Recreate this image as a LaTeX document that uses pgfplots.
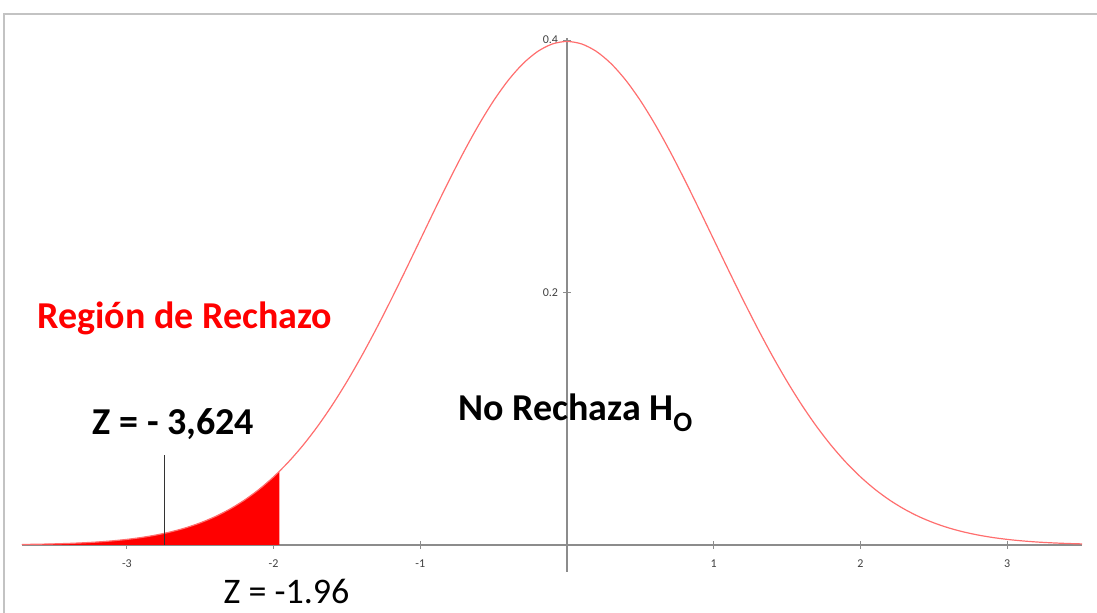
\documentclass[border=0pt]{standalone}
\usepackage{fontspec}
\setmainfont{Carlito}
\usepackage{pgfplots}
\pgfplotsset{compat=1.18}
\definecolor{curvered}{RGB}{255,110,110}
\definecolor{axgray}{RGB}{140,140,140}
\definecolor{framegray}{RGB}{195,195,195}
\begin{document}
\begin{tikzpicture}
\begin{axis}[
  scale only axis,
  width=530pt, height=267pt,
  xmin=-3.715, xmax=3.51,
  ymin=-0.0214, ymax=0.4017,
  axis lines=middle,
  axis line style={axgray, line width=0.8pt, -},
  xtick={-3,-2,-1,1,2,3},
  ytick={0.2,0.4},
  yticklabels={0.2,0.4},
  tick style={axgray, line width=0.6pt},
  major tick length=4pt,
  tick align=center,
  /pgf/number format/assume math mode=true,
  tick label style={font=\fontsize{6}{7}\selectfont, text=black!75},
  xticklabel style={yshift=-2pt},
  yticklabel style={xshift=1pt},
  clip=false,
]
% rejection region fill
\addplot[fill=red, draw=none] coordinates {
(-3.715,0) (-3.715,0.0004) (-3.7,0.00042) (-3.6,0.00061) (-3.5,0.00087) (-3.4,0.00123)
(-3.3,0.00172) (-3.2,0.00238) (-3.1,0.00327) (-3.0,0.00443) (-2.9,0.00595)
(-2.8,0.00792) (-2.7,0.01042) (-2.6,0.01358) (-2.5,0.01753) (-2.4,0.02239)
(-2.3,0.02833) (-2.2,0.03547) (-2.1,0.04398) (-2.0,0.05399) (-1.96,0.05844) (-1.96,0)
} -- cycle;
% normal curve
\addplot[curvered, line width=0.6pt, smooth] coordinates {
(-3.715,0.0004) (-3.6,0.00061) (-3.5,0.00087) (-3.4,0.00123) (-3.3,0.00172)
(-3.2,0.00238) (-3.1,0.00327) (-3.0,0.00443) (-2.9,0.00595) (-2.8,0.00792)
(-2.7,0.01042) (-2.6,0.01358) (-2.5,0.01753) (-2.4,0.02239) (-2.3,0.02833)
(-2.2,0.03547) (-2.1,0.04398) (-2.0,0.05399) (-1.9,0.06562) (-1.8,0.07895)
(-1.7,0.09405) (-1.6,0.11092) (-1.5,0.12952) (-1.4,0.14973) (-1.3,0.17137)
(-1.2,0.19419) (-1.1,0.21785) (-1.0,0.24197) (-0.9,0.26609) (-0.8,0.28969)
(-0.7,0.31225) (-0.6,0.33322) (-0.5,0.35207) (-0.4,0.36827) (-0.3,0.38139)
(-0.2,0.39104) (-0.1,0.39695) (0,0.39894) (0.1,0.39695) (0.2,0.39104)
(0.3,0.38139) (0.4,0.36827) (0.5,0.35207) (0.6,0.33322) (0.7,0.31225)
(0.8,0.28969) (0.9,0.26609) (1.0,0.24197) (1.1,0.21785) (1.2,0.19419)
(1.3,0.17137) (1.4,0.14973) (1.5,0.12952) (1.6,0.11092) (1.7,0.09405)
(1.8,0.07895) (1.9,0.06562) (2.0,0.05399) (2.1,0.04398) (2.2,0.03547)
(2.3,0.02833) (2.4,0.02239) (2.5,0.01753) (2.6,0.01358) (2.7,0.01042)
(2.8,0.00792) (2.9,0.00595) (3.0,0.00443) (3.1,0.00327) (3.2,0.00238)
(3.3,0.00172) (3.4,0.00123) (3.51,0.00084)
};
% marker line
\addplot[black!80, line width=0.5pt] coordinates {(-2.747,0) (-2.747,0.071)};
\node[anchor=base, text=red, font=\fontsize{19}{22}\selectfont\bfseries] at (axis cs:-2.604,0.1712) {Región de Rechazo};
\node[anchor=base, font=\fontsize{19}{22}\selectfont\bfseries] at (axis cs:-2.682,0.0872) {Z = - 3,624};
\node[anchor=base west, inner xsep=0pt, font=\fontsize{19}{22}\selectfont\bfseries] at (axis cs:-0.743,0.0983) {No Rechaza H\raisebox{-5.5pt}{\fontsize{14}{16}\selectfont O}};
\node[anchor=base, font=\fontsize{18}{21}\selectfont] at (axis cs:-1.912,-0.046) {Z = -1.96};
\end{axis}
\draw[framegray, line width=1pt] ([xshift=-9pt,yshift=-20.5pt]current axis.south west) -- ++(0,299.5pt) -- ++(546.5pt,0);
\pgfresetboundingbox
\path ([xshift=-11pt,yshift=-20.5pt]current axis.south west) rectangle ++(548.5pt,306.5pt);
\end{tikzpicture}
\end{document}
